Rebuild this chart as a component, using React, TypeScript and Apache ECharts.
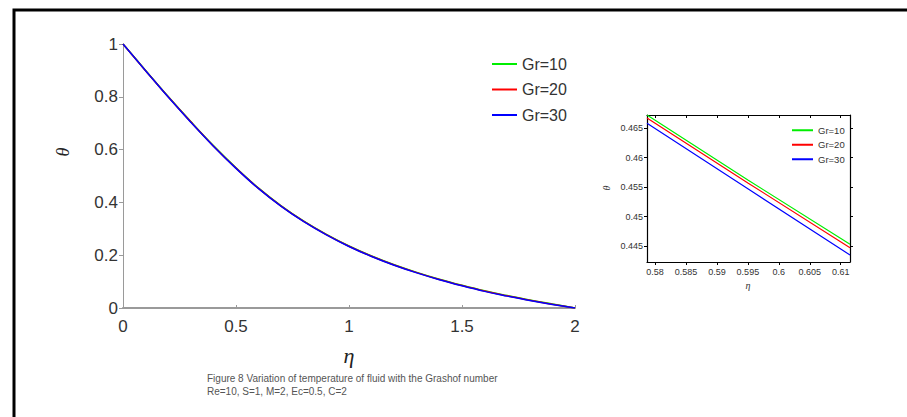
import React, { useEffect, useRef } from "react";
import * as echarts from "echarts";

const eta = [0, 0.1, 0.2, 0.3, 0.4, 0.5, 0.6, 0.7, 0.8, 0.9, 1.0, 1.1, 1.2, 1.3, 1.4, 1.5, 1.6, 1.7, 1.8, 1.9, 2.0];
const thetaGr10 = [1, 0.9, 0.801, 0.706, 0.615, 0.531, 0.454, 0.387, 0.329, 0.279, 0.235, 0.197, 0.164, 0.135, 0.109, 0.086, 0.065, 0.047, 0.03, 0.015, 0];
const thetaGr20 = [1, 0.899, 0.8, 0.705, 0.614, 0.53, 0.453, 0.386, 0.328, 0.278, 0.234, 0.196, 0.163, 0.134, 0.108, 0.085, 0.064, 0.046, 0.029, 0.014, 0];
const thetaGr30 = [1, 0.899, 0.799, 0.704, 0.613, 0.529, 0.452, 0.385, 0.327, 0.277, 0.233, 0.195, 0.162, 0.133, 0.107, 0.084, 0.063, 0.045, 0.028, 0.013, 0];

const insetEta = [0.5787, 0.595, 0.6115];
const insetGr10 = [0.4672, 0.4562, 0.4453];
const insetGr20 = [0.4667, 0.4557, 0.4447];
const insetGr30 = [0.4658, 0.4547, 0.4435];

const insetXTicks = [0.58, 0.585, 0.59, 0.595, 0.6, 0.605, 0.61];
const insetYTicks = [0.445, 0.45, 0.455, 0.46, 0.465];

const seriesNames = ["Gr=10", "Gr=20", "Gr=30"];
const seriesColors = ["#00ee00", "#ff0000", "#0000ff"];

const captionLine1 = "Figure 8 Variation of temperature of fluid with the Grashof number";
const captionLine2 = "Re=10, S=1, M=2, Ec=0.5, C=2";

const FONT = "'Liberation Sans', Arial, sans-serif";
const SERIF = "'Liberation Serif', 'DejaVu Serif', serif";

export default function App() {
  const ref = useRef<HTMLDivElement>(null);
  useEffect(() => {
    if (!ref.current) return;
    const chart = echarts.init(ref.current, null, { renderer: "svg" });
    const pair = (xs: number[], ys: number[]) => xs.map((x, i) => [x, ys[i]]);
    const mainData = [thetaGr10, thetaGr20, thetaGr30];
    const insetData = [insetGr10, insetGr20, insetGr30];

    const insetMinY = 0.4423;
    const insetMaxY = 0.4672;
    const insetMinX = 0.5787;
    const insetMaxX = 0.6115;

    chart.setOption({
      animation: false,
      backgroundColor: "#ffffff",
      grid: [
        { left: 123, right: 332, top: 44, bottom: 109 },
        { left: 647, right: 57, top: 115, bottom: 155 },
      ],
      xAxis: [
        {
          type: "value",
          gridIndex: 0,
          min: 0,
          max: 2,
          interval: 0.5,
          axisLine: { lineStyle: { color: "#9a9a9a", width: 2 } },
          axisTick: { inside: true, length: 3, lineStyle: { color: "#9a9a9a" } },
          axisLabel: { color: "#333", fontSize: 17, fontFamily: FONT, margin: 10 },
          splitLine: { show: false },
        },
        {
          type: "value",
          gridIndex: 1,
          min: insetMinX,
          max: insetMaxX,
          axisLine: { lineStyle: { color: "#000", width: 1.2 } },
          axisTick: { length: 3, customValues: insetXTicks, lineStyle: { color: "#000" } },
          axisLabel: {
            color: "#333",
            fontSize: 9,
            fontFamily: FONT,
            margin: 5,
            customValues: insetXTicks,
          },
          splitLine: { show: false },
        },
        {
          type: "value",
          gridIndex: 1,
          position: "top",
          min: insetMinX,
          max: insetMaxX,
          axisLine: { lineStyle: { color: "#000", width: 1.2 } },
          axisTick: { inside: true, length: 3, customValues: insetXTicks, lineStyle: { color: "#000" } },
          axisLabel: { show: false },
          splitLine: { show: false },
        },
      ],
      yAxis: [
        {
          type: "value",
          gridIndex: 0,
          min: 0,
          max: 1,
          interval: 0.2,
          axisLine: { show: true, lineStyle: { color: "#9a9a9a", width: 1 } },
          axisTick: { show: true, length: 4, lineStyle: { color: "#9a9a9a" } },
          axisLabel: { color: "#333", fontSize: 17, fontFamily: FONT, margin: 5 },
          splitLine: { show: false },
        },
        {
          type: "value",
          gridIndex: 1,
          min: insetMinY,
          max: insetMaxY,
          axisLine: { show: true, lineStyle: { color: "#000", width: 1.2 } },
          axisTick: { show: true, length: 3, customValues: insetYTicks, lineStyle: { color: "#000" } },
          axisLabel: {
            color: "#333",
            fontSize: 9,
            fontFamily: FONT,
            margin: 4,
            customValues: insetYTicks,
          },
          splitLine: { show: false },
        },
        {
          type: "value",
          gridIndex: 1,
          position: "right",
          min: insetMinY,
          max: insetMaxY,
          axisLine: { show: true, lineStyle: { color: "#000", width: 1.2 } },
          axisTick: { show: true, length: 3, customValues: insetYTicks, lineStyle: { color: "#000" } },
          axisLabel: { show: false },
          splitLine: { show: false },
        },
      ],
      legend: [
        {
          orient: "vertical",
          left: 487,
          top: 51,
          icon: "rect",
          itemWidth: 25,
          itemHeight: 2,
          itemGap: 9.5,
          itemTextGap: 3,
          data: seriesNames,
          textStyle: { color: "#333", fontSize: 16, fontFamily: FONT, lineHeight: 16 },
          selectedMode: false,
        },
        {
          orient: "vertical",
          left: 787,
          top: 120,
          icon: "rect",
          itemWidth: 21,
          itemHeight: 2,
          itemGap: 4,
          itemTextGap: 2,
          data: seriesNames,
          textStyle: { color: "#333", fontSize: 9.5, fontFamily: FONT, lineHeight: 10.5 },
          selectedMode: false,
        },
      ],
      graphic: [
        {
          type: "rect",
          shape: { x: 14, y: 10, width: 1000, height: 600 },
          style: { fill: "none", stroke: "#000", lineWidth: 3 },
          silent: true,
        },
        {
          type: "text",
          x: 349,
          y: 355,
          style: {
            text: "η",
            fontSize: 22,
            fontStyle: "italic",
            fontFamily: SERIF,
            fill: "#222",
            textAlign: "center",
            textVerticalAlign: "middle",
          },
        },
        {
          type: "text",
          x: 63,
          y: 152,
          rotation: Math.PI / 2,
          style: {
            text: "θ",
            fontSize: 18,
            fontStyle: "italic",
            fontFamily: SERIF,
            fill: "#222",
            textAlign: "center",
            textVerticalAlign: "middle",
          },
        },
        {
          type: "text",
          x: 748,
          y: 285,
          style: {
            text: "η",
            fontSize: 10,
            fontStyle: "italic",
            fontFamily: SERIF,
            fill: "#333",
            textAlign: "center",
            textVerticalAlign: "middle",
          },
        },
        {
          type: "text",
          x: 606,
          y: 188,
          rotation: Math.PI / 2,
          style: {
            text: "θ",
            fontSize: 10,
            fontStyle: "italic",
            fontFamily: SERIF,
            fill: "#333",
            textAlign: "center",
            textVerticalAlign: "middle",
          },
        },
        {
          type: "text",
          x: 207,
          y: 378,
          style: {
            text: captionLine1,
            fontSize: 10,
            fontFamily: FONT,
            fill: "#555",
            textAlign: "left",
            textVerticalAlign: "middle",
          },
        },
        {
          type: "text",
          x: 207,
          y: 391,
          style: {
            text: captionLine2,
            fontSize: 10,
            fontFamily: FONT,
            fill: "#555",
            textAlign: "left",
            textVerticalAlign: "middle",
          },
        },
      ],
      series: [
        ...seriesNames.map((name, i) => ({
          name,
          type: "line",
          xAxisIndex: 0,
          yAxisIndex: 0,
          data: pair(eta, mainData[i]),
          smooth: 0.4,
          showSymbol: false,
          symbol: "none",
          color: seriesColors[i],
          lineStyle: { width: 1.5, color: seriesColors[i] },
        })),
        ...seriesNames.map((name, i) => ({
          name,
          type: "line",
          xAxisIndex: 1,
          yAxisIndex: 1,
          data: pair(insetEta, insetData[i]),
          showSymbol: false,
          symbol: "none",
          color: seriesColors[i],
          lineStyle: { width: 1.2, color: seriesColors[i] },
        })),
      ],
    });
    return () => chart.dispose();
  }, []);
  return (
    <div
      ref={ref}
      style={{ position: "fixed", left: 0, top: 0, width: 907, height: 417 }}
    />
  );
}
